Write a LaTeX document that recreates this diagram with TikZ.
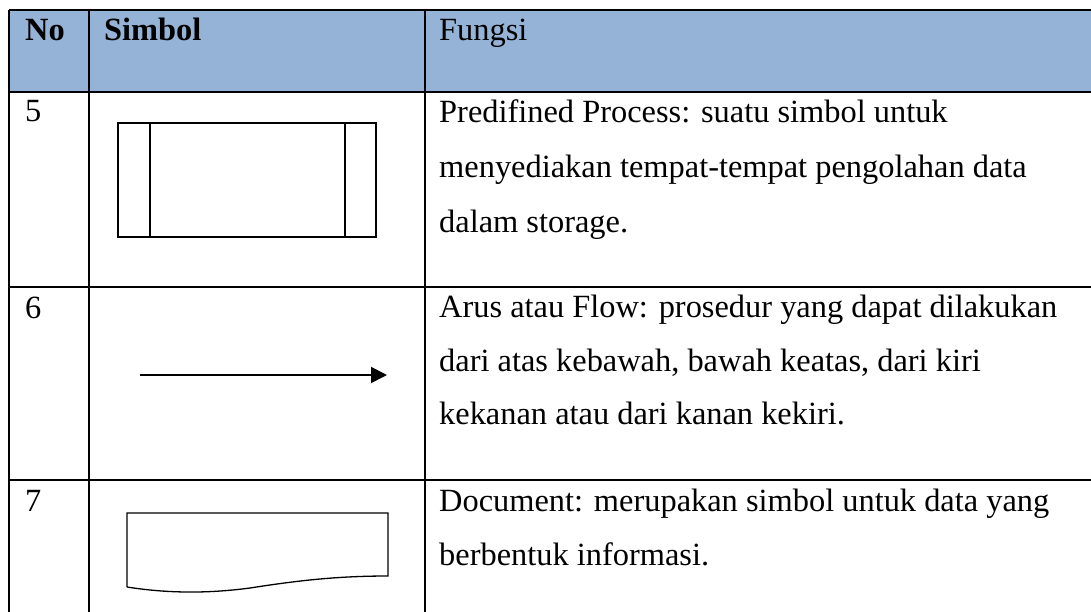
\documentclass[tikz,border=0pt]{standalone}
\usepackage{fontspec}
\setmainfont{Liberation Serif}
\usetikzlibrary{arrows.meta}
\definecolor{hdrblue}{HTML}{95B3D7}
\begin{document}
\begin{tikzpicture}[x=1pt,y=-1pt,
  grid/.style={line width=1.8pt,black},
  sym/.style={line width=1.3pt,black},
  txt/.style={anchor=base west,inner sep=0pt,font=\fontsize{32.4}{38}\selectfont},
  hdr/.style={txt,font=\fontsize{32.4}{38}\selectfont\bfseries}]
\useasboundingbox (0,0) rectangle (1091,612);
\fill[hdrblue] (9,10) rectangle (1091,92);
% grid lines
\draw[grid] (9,10) -- (1091,10);
\draw[grid] (9,92) -- (1091,92);
\draw[grid] (9,287) -- (1091,287);
\draw[grid] (9,480) -- (1091,480);
\draw[grid] (9,10) -- (9,612);
\draw[grid] (89,10) -- (89,612);
\draw[grid] (425,10) -- (425,612);
% header
\node[hdr] (hno) at (25,41) {No};
\node[hdr] (hsim) at (104,41) {Simbol};
\node[txt] (hfun) at (439,41) {Fungsi};
% row 5
\node[txt] (n5) at (25,122) {5};
\draw[sym] (118,123) rectangle (376,237);
\draw[sym] (150,123) -- (150,237);
\draw[sym] (345,123) -- (345,237);
\node[txt] (t5a) at (439,123) {Predifined Process: suatu simbol untuk};
\node[txt] (t5b) at (439,178) {menyediakan tempat-tempat pengolahan data};
\node[txt] (t5c) at (439,233) {dalam storage.};
% row 6
\node[txt] (n6) at (25,318) {6};
\coordinate (as) at (140,375);
\coordinate (ae) at (387,375);
\draw[sym,line width=1.8pt,-{Triangle[length=16pt,width=16pt]}] (as) -- (ae);
\node[txt] (t6a) at (439,317) {Arus atau Flow: prosedur yang dapat dilakukan};
\node[txt] (t6b) at (439,371) {dari atas kebawah, bawah keatas, dari kiri};
\node[txt] (t6c) at (439,424) {kekanan atau dari kanan kekiri.};
% row 7
\node[txt] (n7) at (25,511) {7};
\draw[sym] (127,587) -- (127,513) -- (388,513) -- (388,576)
  .. controls (335,576) and (295,581) .. (250,588)
  .. controls (205,594) and (165,593) .. (127,587);
\node[txt] (t7a) at (439,511) {Document: merupakan simbol untuk data yang};
\node[txt] (t7b) at (439,565) {berbentuk informasi.};
\end{tikzpicture}
\end{document}
